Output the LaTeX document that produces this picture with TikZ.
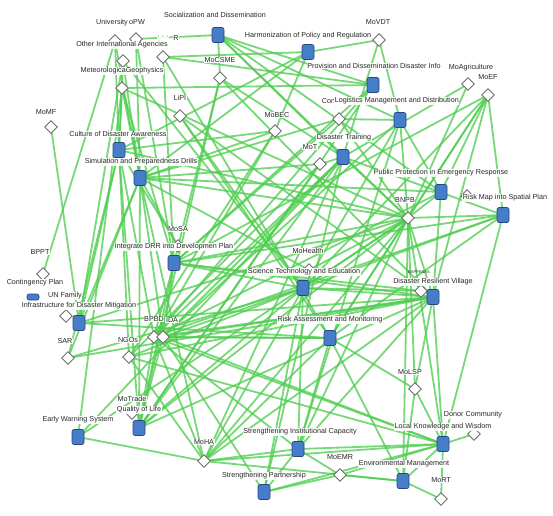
\documentclass[tikz,border=0pt]{standalone}
\usepackage{fontspec}
\setmainfont{Liberation Sans}
\usetikzlibrary{shapes.geometric}
\pgfdeclarelayer{edges}
\pgfsetlayers{edges,main}
\definecolor{edgegreen}{RGB}{80,205,80}
\definecolor{sqblue}{RGB}{70,125,200}
\definecolor{sqborder}{RGB}{40,70,130}
\definecolor{dgray}{RGB}{110,110,110}
\definecolor{txt}{RGB}{40,40,40}
\tikzset{
  bsq/.style={draw=sqborder, fill=sqblue, rounded corners=2pt, minimum width=12pt, minimum height=15pt, inner sep=0pt, line width=0.6pt},
  dia/.style={diamond, draw=dgray, fill=white, minimum size=13pt, inner sep=0pt, line width=0.9pt},
  lab/.style={font=\fontsize{7.2}{8}\selectfont, text=txt, fill=white, fill opacity=0.9, text opacity=1, inner sep=0.6pt},
  tinylab/.style={font=\fontsize{4}{5}\selectfont, text=txt, inner sep=0.5pt},
  link/.style={draw=edgegreen, line width=1.8pt, opacity=0.78}
}
\begin{document}
\begin{tikzpicture}[x=1pt,y=-1pt]
\useasboundingbox (0,0) rectangle (553,515);
% ---------- diamonds ----------
\node[dia] (univ) at (115,41) {};
\node[dia] (opw) at (136,39) {};
\node[dia] (rdia) at (163,57) {};
\node[dia] (oia) at (123,61) {};
\node[dia] (met) at (122,88) {};
\node[dia] (mocsme) at (220,78) {};
\node[dia] (lipi) at (180,116) {};
\node[dia] (momf) at (51,127) {};
\node[dia] (mobec) at (275,131) {};
\node[dia] (con) at (339,119) {};
\node[dia] (movdt) at (379,40) {};
\node[dia] (moagri) at (468,84) {};
\node[dia] (moef) at (488,95) {};
\node[dia] (mot) at (320,164) {};
\node[dia] (bnpb) at (408,218) {};
\node[dia] (hidp) at (467,196) {};
\node[dia] (mosa) at (178,246) {};
\node[dia] (mohealth) at (309,270) {};
\node[dia] (bappenas) at (421,291) {};
\node[dia] (bppt) at (43,274) {};
\node[dia] (unfam) at (66,316) {};
\node[dia] (bpbd) at (154,337) {};
\node[dia] (ida) at (163,337) {};
\node[dia] (sar) at (68,358) {};
\node[dia] (ngos) at (129,357) {};
\node[dia] (molsp) at (415,389) {};
\node[dia] (donor) at (474,434) {};
\node[dia] (moemr) at (340,475) {};
\node[dia] (mort) at (441,499) {};
\node[dia] (moha) at (204,461) {};
\node[dia] (motrade) at (132,413) {};
% ---------- blue squares ----------
\node[bsq] (soc) at (218,35) {};
\node[bsq] (harm) at (308,52) {};
\node[bsq] (prov) at (373,85) {};
\node[bsq] (logi) at (400,120) {};
\node[bsq] (train) at (343,157) {};
\node[bsq] (pubp) at (441,192) {};
\node[bsq] (riskmap) at (503,215) {};
\node[bsq] (cult) at (119,150) {};
\node[bsq] (sim) at (140,178) {};
\node[bsq] (integ) at (174,263) {};
\node[bsq] (sci) at (303,288) {};
\node[bsq] (drv) at (433,297) {};
\node[bsq] (riskass) at (330,338) {};
\node[bsq] (infra) at (79,323) {};
\node[bsq, minimum height=6pt] (cont) at (33,297) {};
\node[bsq] (ews) at (78,437) {};
\node[bsq] (qol) at (139,428) {};
\node[bsq] (sic) at (298,449) {};
\node[bsq] (sp) at (264,492) {};
\node[bsq] (lkw) at (443,444) {};
\node[bsq] (env) at (403,481) {};
% ---------- connectors ----------
\begin{pgfonlayer}{edges}
\foreach \a/\b in {
 soc/opw, soc/mocsme, soc/prov, soc/logi, soc/train, soc/bnpb, soc/pubp,
 rdia/harm, rdia/prov, rdia/riskass, rdia/integ,
 harm/movdt, harm/mobec, harm/cult, harm/sim,
 mocsme/train, mocsme/drv, mocsme/integ, mocsme/qol,
 met/prov, met/cult, met/sim, met/ews, met/integ, met/bnpb,
 oia/cult, oia/sim, oia/infra, oia/sci,
 univ/cult, univ/bppt, univ/sim,
 opw/sim, opw/integ,
 lipi/sci, lipi/riskass, lipi/drv,
 momf/infra,
 mobec/sim, mobec/cult, mobec/ngos, mobec/bpbd,
 con/logi, con/sim, con/integ, con/bnpb,
 movdt/logi, movdt/train,
 moagri/train, moagri/bnpb,
 moef/bnpb, moef/sci, moef/drv, moef/pubp, moef/riskass, moef/integ, moef/riskmap,
 mot/train, mot/sim, mot/ngos, mot/qol,
 bnpb/riskmap, bnpb/pubp, bnpb/train, bnpb/logi, bnpb/sci, bnpb/integ, bnpb/drv,
 bnpb/qol, bnpb/ews, bnpb/moha, bnpb/sic, bnpb/cult, bnpb/sim, bnpb/infra,
 bnpb/lkw, bnpb/riskass, bnpb/molsp, bnpb/env,
 riskmap/train, riskmap/sci, riskmap/lkw, riskmap/integ, riskmap/riskass, riskmap/bpbd,
 pubp/sim, pubp/logi, pubp/bpbd, pubp/drv,
 mohealth/sim, mohealth/bnpb,
 mosa/sim, mosa/cult,
 bappenas/integ, bappenas/sci,
 drv/sci, drv/integ, drv/bpbd, drv/ida, drv/ngos, drv/molsp, drv/lkw, drv/sic,
 drv/moha, drv/qol, drv/infra,
 sci/integ, sci/ida, sci/ngos, sci/qol, sci/sic, sci/sp,
 riskass/bpbd, riskass/ida, riskass/infra, riskass/moha, riskass/env, riskass/sic,
 integ/ida, integ/bpbd, integ/qol,
 cult/ngos, cult/bpbd, cult/infra, cult/sar, cult/qol,
 sim/ida, sim/infra, sim/sar, sim/qol, sim/moha,
 train/ida, train/bpbd, train/moha, train/sp, train/qol, train/ews,
 logi/ida, logi/moha, logi/sic,
 prov/bpbd, prov/integ, prov/qol,
 ews/moha,
 qol/ida, qol/bpbd,
 moha/lkw, moha/sic, moha/env, moha/bpbd, moha/ngos,
 sp/moemr, sp/sic, sp/lkw, sp/ida,
 sic/lkw, sic/moemr, sic/bpbd,
 moemr/lkw, moemr/env,
 env/lkw, env/molsp, env/mort,
 lkw/molsp, lkw/donor, lkw/ida, lkw/bpbd,
 mort/lkw, molsp/riskass,
 sar/drv, sar/sci, ngos/lkw}
 \draw[link] (\a.center) -- (\b.center);
\end{pgfonlayer}
% ---------- labels ----------
\node[lab] (l-soc) at (215,15) {Socialization and Dissemination};
\node[lab] (l-harm) at (308,36) {Harmonization of Policy and Regulation};
\node[lab] (l-prov) at (374,66) {Provision and Dissemination Disaster Info};
\node[lab, anchor=west] (l-con) at (321,101) {Con};
\node[lab, anchor=west] (l-logi) at (334,101) {Logistics Management and Distribution};
\node[lab] (l-train) at (344,138) {Disaster Training};
\node[lab] (l-pubp) at (441,173) {Public Protection in Emergency Response};
\node[lab] (l-riskmap) at (505,198) {Risk Map into Spatial Plan};
\node[lab] (l-cult) at (118,134) {Culture of Disaster Awareness};
\node[lab] (l-sim) at (141,162) {Simulation and Preparedness Drills};
\node[lab] (l-integ) at (174,247) {Integrate DRR into Developmen Plan};
\node[lab] (l-sci) at (304,272) {Science Technology and Education};
\node[lab] (l-drv) at (433,282) {Disaster Resilient Village};
\node[lab] (l-riskass) at (330,320) {Risk Assessment and Monitoring};
\node[lab] (l-infra) at (79,306) {Infrastructure for Disaster Mitigation};
\node[lab] (l-cont) at (35,283) {Contingency Plan};
\node[lab] (l-unfam) at (65,296) {UN Family};
\node[lab] (l-ews) at (78,420) {Early Warning System};
\node[lab] (l-motrade) at (132,399) {MoTrade};
\node[lab] (l-qol) at (139,410) {Quality of Life};
\node[lab] (l-sic) at (300,432) {Strengthening Institutional Capacity};
\node[lab] (l-sp) at (264,476) {Strengthening Partnership};
\node[lab] (l-lkw) at (443,427) {Local Knowledge and Wisdom};
\node[lab] (l-env) at (404,464) {Environmental Management};
\node[lab] (l-univ) at (112,23) {University};
\node[lab] (l-opw) at (137,22) {oPW};
\node[lab] (l-dots) at (163,37) {· · ·};
\node[lab] (l-r) at (176,38) {R};
\node[lab] (l-oia) at (122,45) {Other International Agencies};
\node[lab] (l-met) at (122,71) {MeteorologicaGeophysics};
\node[lab] (l-mocsme) at (220,60) {MoCSME};
\node[lab] (l-lipi) at (180,98) {LiPI};
\node[lab] (l-momf) at (46,112) {MoMF};
\node[lab] (l-mobec) at (277,115) {MoBEC};
\node[lab] (l-movdt) at (378,22) {MoVDT};
\node[lab] (l-moagri) at (471,68) {MoAgriculture};
\node[lab] (l-moef) at (488,77) {MoEF};
\node[lab] (l-mot) at (310,147) {MoT};
\node[lab] (l-bnpb) at (405,200) {BNPB};
\node[lab] (l-mosa) at (178,229) {MoSA};
\node[lab] (l-mohealth) at (308,251) {MoHealth};
\node[tinylab] (l-bappenas) at (419,272) {BAPPENAS};
\node[lab] (l-bppt) at (40,252) {BPPT};
\node[lab] (l-bpbd) at (154,319) {BPBD};
\node[lab] (l-ida) at (172,320) {IDA};
\node[lab] (l-sar) at (65,341) {SAR};
\node[lab] (l-ngos) at (128,340) {NGOs};
\node[lab] (l-molsp) at (410,372) {MoLSP};
\node[lab] (l-donor) at (473,415) {Donor Community};
\node[lab] (l-moemr) at (340,457) {MoEMR};
\node[lab] (l-mort) at (441,480) {MoRT};
\node[lab] (l-moha) at (204,442) {MoHA};
\end{tikzpicture}
\end{document}
